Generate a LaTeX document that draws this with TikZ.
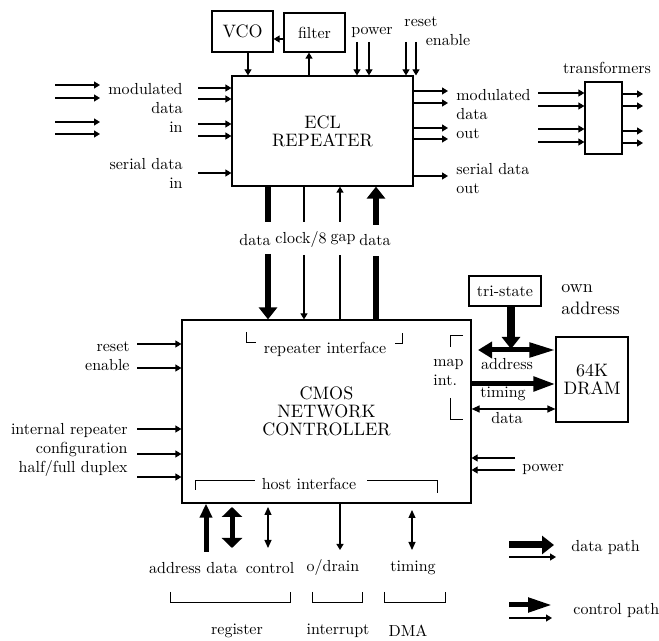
\documentclass[tikz,border=0pt]{standalone}
\usepackage{fontspec}
\setmainfont{lmroman10-regular.otf}[BoldFont=lmroman10-bold.otf, ItalicFont=lmroman10-italic.otf]
\usetikzlibrary{arrows.meta}
\begin{document}
\begin{tikzpicture}[x=0.5pt,y=-0.5pt,
    box/.style={draw, line width=0.6pt, inner sep=0pt, font=\small, align=center},
    lbl/.style={inner sep=0pt, font=\footnotesize},
    sig/.style={line width=0.6pt, -{Triangle[length=3pt,width=3.5pt]}},
    sigb/.style={line width=0.6pt, {Triangle[length=4pt,width=3.5pt]}-{Triangle[length=4pt,width=3.5pt]}},
    bus/.style={line width=3pt, -{Triangle[length=6pt,width=9pt]}},
    brk/.style={line width=0.5pt}]
    \useasboundingbox (0,0) rectangle (659,641);
    \node[box, minimum width=90.5pt, minimum height=55pt] (ecl) at (322.5,131) {ECL\\[-2pt]REPEATER};
    \node[box, minimum width=30.5pt, minimum height=20.5pt] (vco) at (242.5,31.5) {VCO};
    \node[box, minimum width=30.5pt, minimum height=19.5pt] (filter) at (314.5,32.5) {\footnotesize filter};
    \node[box, minimum width=18.5pt, minimum height=36pt] (trf) at (603.5,118) {};
    \node[box, minimum width=144.5pt, minimum height=91.5pt] (cmos) at (326.5,411.5) {CMOS\\[-2pt]NETWORK\\[-2pt]CONTROLLER};
    \node[box, minimum width=36pt, minimum height=15pt] (tri) at (505,291) {\footnotesize tri-state};
    \node[box, minimum width=36pt, minimum height=42.5pt] (dram) at (592,379.5) {64K\\[-2pt]DRAM};
    \node[lbl, anchor=east, align=right] (modin) at (183,108) {modulated\\data\\in};
    \node[lbl, anchor=east, align=right] (serin) at (183,173.5) {serial data\\in};
    \node[lbl, anchor=west, align=left] (modout) at (456,114) {modulated\\data\\out};
    \node[lbl, anchor=west, align=left] (serout) at (456,178.5) {serial data\\out};
    \node[lbl] (trflbl) at (607,68) {transformers};
    \node[lbl] (pwrtop) at (372,32) {power};
    \node[lbl] (rsttop) at (421,22) {reset};
    \node[lbl] (entop) at (448,40) {enable};
    \node[lbl] (datadn) at (255,240) {data};
    \node[lbl] (clk) at (301,240) {clock/8};
    \node[lbl] (gap) at (343,240) {gap};
    \node[lbl] (dataup) at (375,240) {data};
    \node[lbl] (repif) at (325,349) {repeater interface};
    \node[lbl, anchor=west, align=left] (mapif) at (433,373) {map\\int.};
    \node[lbl] (maddr) at (507,364) {address};
    \node[lbl] (mtime) at (503,394) {timing};
    \node[lbl] (mdata) at (507,418) {data};
    \node[inner sep=0pt, font=\small, anchor=west, align=left] (own) at (561,300) {own\\address};
    \node[lbl, anchor=east, align=right] (rsten) at (130,356) {reset\\enable};
    \node[lbl, anchor=east, align=right] (conf) at (128,450) {internal repeater\\configuration\\half/full duplex};
    \node[lbl, anchor=west] (pwrbot) at (522,469) {power};
    \node[lbl] (hostif) at (309,484) {host interface};
    \node[lbl] (haddr) at (175,568) {address};
    \node[lbl] (hdata) at (222,568) {data};
    \node[lbl] (hctl) at (270,568) {control};
    \node[lbl] (odrain) at (333,568) {o/drain};
    \node[lbl] (htime) at (413,568) {timing};
    \node[lbl] (reg) at (237,631) {register};
    \node[lbl] (intr) at (338,631) {interrupt};
    \node[lbl] (dma) at (408,631) {DMA};
    \node[lbl, anchor=west] (dpath) at (571,548) {data path};
    \node[lbl, anchor=west] (cpath) at (573,610) {control path};
    \foreach \y in {85,98,122,134} \draw[sig] (55,\y) -- (100,\y);
    \foreach \y in {88,99,124,136,173} \draw[sig] (198,\y) -- (ecl.west |- 0,\y);
    \foreach \y in {91,103,128,139,176} \draw[sig] (ecl.east |- 0,\y) -- (448,\y);
    \foreach \y in {93,106,129,142} \draw[sig] (538,\y) -- (trf.west |- 0,\y);
    \foreach \y in {94,106,131,143} \draw[sig] (trf.east |- 0,\y) -- (643,\y);
    \draw[sig] (filter.west |- 0,39) -- (vco.east |- 0,39);
    \draw[sig] (vco.south -| 248,0) -- (ecl.north -| 248,0);
    \draw[sig] (ecl.north -| 309,0) -- (filter.south -| 309,0);
    \foreach \x in {357,369,406,416} \draw[sig] (\x,42) -- (ecl.north -| \x,0);
    \draw[line width=3pt] (ecl.south -| 268,0) -- (268,222);
    \draw[bus] (268,254) -- (cmos.north -| 268,0);
    \draw[line width=0.6pt] (ecl.south -| 304,0) -- (304,222);
    \draw[sig] (304,255) -- (cmos.north -| 304,0);
    \draw[line width=0.6pt] (cmos.north -| 340,0) -- (340,255);
    \draw[sig] (340,222) -- (ecl.south -| 340,0);
    \draw[line width=3pt] (cmos.north -| 376,0) -- (376,256);
    \draw[bus] (376,225) -- (ecl.south -| 376,0);
    \draw[brk] (246,332) |- (256,343);
    \draw[brk] (395,344) -| (402,333);
    \draw[brk] (463,336) -| (450,347);
    \draw[brk] (450,398) |- (463,420);
    \draw[brk] (195,490) |- (255,481);
    \draw[brk] (367,481) -| (437,493);
    \draw[line width=4pt, -{Triangle[length=6pt,width=9pt]}] (tri.south -| 511,0) -- (511,349);
    \draw[line width=2.5pt, {Triangle[length=7pt,width=8pt]}-{Triangle[length=13pt,width=7pt]}] (478,350) -- (dram.west |- 0,350);
    \draw[line width=2.5pt, -{Triangle[length=11pt,width=7pt]}] (cmos.east |- 0,384) -- (dram.west |- 0,384);
    \draw[sigb] (cmos.east |- 0,409) -- (dram.west |- 0,409);
    \foreach \y in {344,368,429,454,477} \draw[sig] (137,\y) -- (cmos.west |- 0,\y);
    \foreach \y in {458,470} \draw[sig] (515,\y) -- (cmos.east |- 0,\y);
    \draw[line width=2.5pt, -{Triangle[length=7pt,width=6pt]}] (206,552) -- (cmos.south -| 206,0);
    \draw[line width=2.5pt, {Triangle[length=5pt,width=10pt]}-{Triangle[length=5pt,width=10pt]}] (232,507) -- (232,548);
    \draw[sigb] (268,507) -- (268,548);
    \draw[sig] (cmos.south -| 340,0) -- (340,550);
    \draw[sigb] (412,510) -- (412,550);
    \draw[brk] (170,592) -- (170,603) -- (290,603) -- (290,592);
    \draw[brk] (312,592) -- (312,603) -- (362,603) -- (362,592);
    \draw[brk] (384,592) -- (384,603) -- (445,603) -- (445,592);
    \draw[line width=3.5pt, -{Triangle[length=6pt,width=9pt]}] (509,545) -- (554,545);
    \draw[sig] (509,557) -- (556,557);
    \draw[line width=2.5pt, -{Triangle[length=12pt,width=7pt]}] (509,605) -- (552,605);
    \draw[sig] (509,618) -- (552,618);
\end{tikzpicture}
\end{document}
